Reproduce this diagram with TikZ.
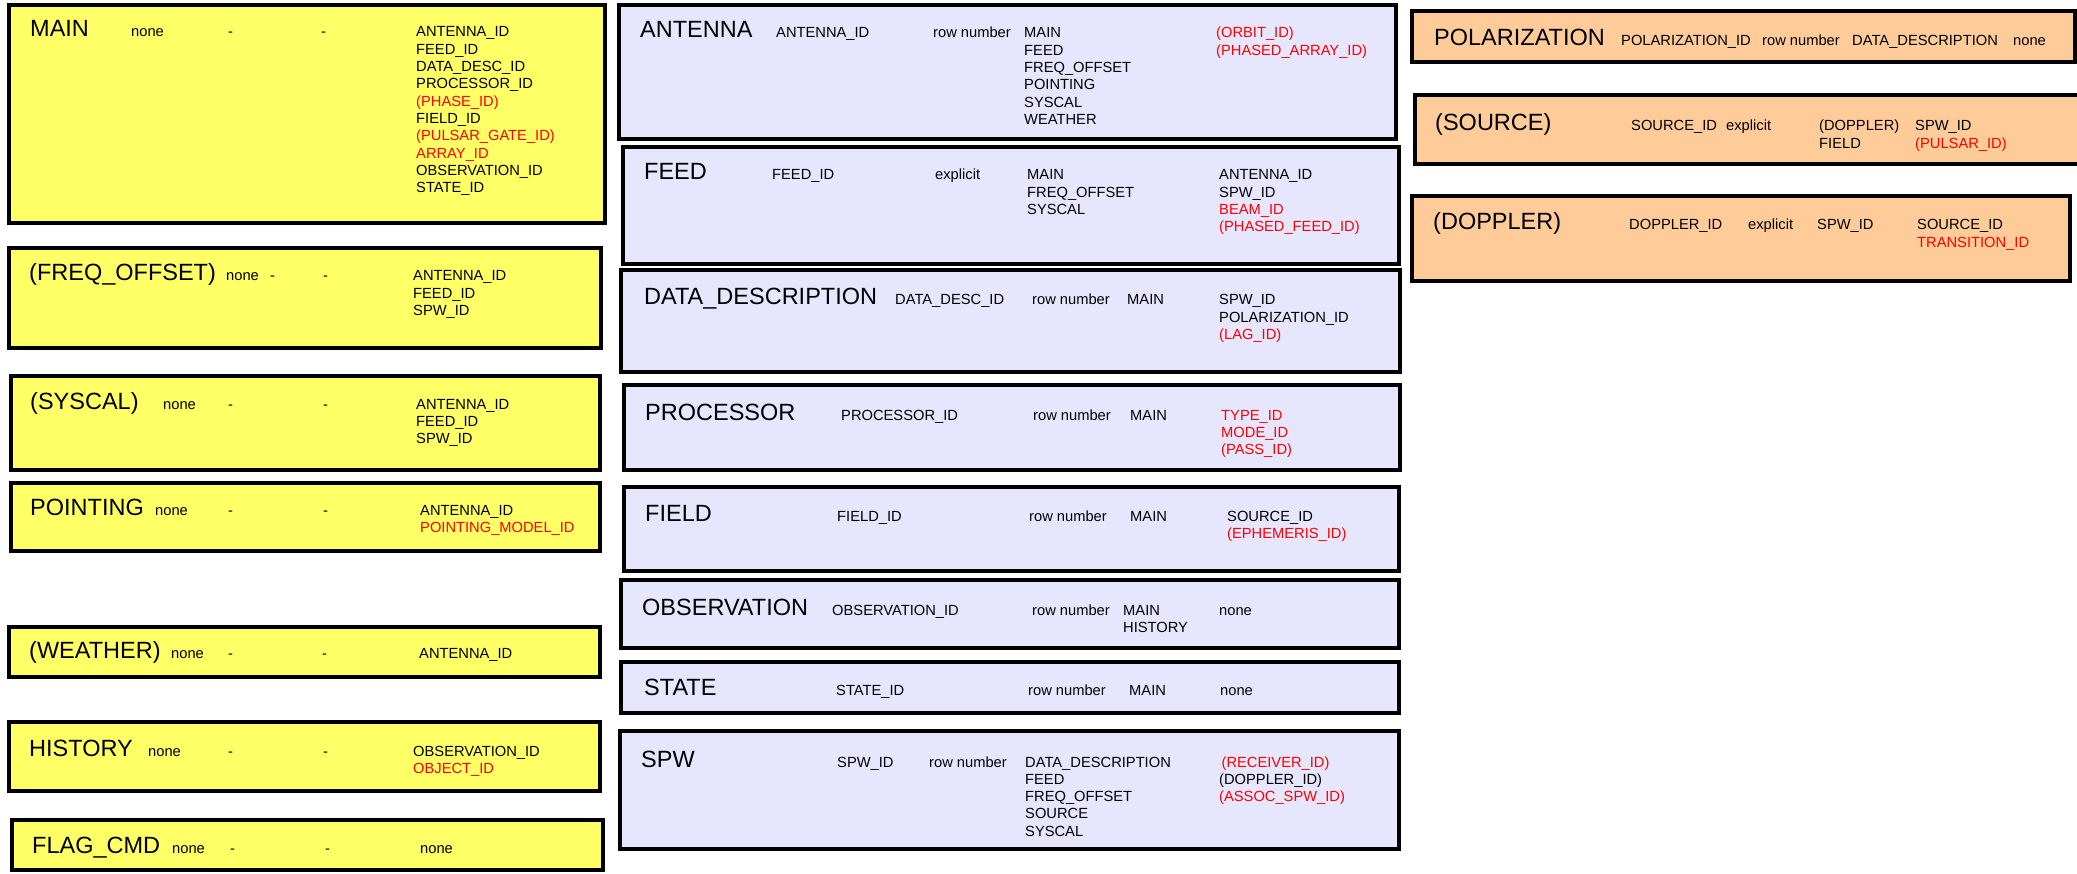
\documentclass[tikz,border=0pt]{standalone}
\usepackage{fontspec}
\setmainfont{Liberation Sans}
\definecolor{ylw}{RGB}{255,255,102}
\definecolor{lav}{RGB}{230,230,255}
\definecolor{org}{RGB}{255,204,153}
\definecolor{idred}{RGB}{255,0,0}
\newcommand{\rd}[1]{\textcolor{idred}{#1}}
\newcommand{\lst}[1]{\begin{tabular}[t]{@{}l@{}}#1\end{tabular}}
\newcommand{\tb}[6]{\node[#1, minimum width={#5-#3}, minimum height={#6-#4}] (#2) at (#3,#4) {};}
\tikzset{
  tbox/.style={draw=black, line width=3.6pt, inner sep=0pt, outer sep=0pt, anchor=north west},
  ybox/.style={tbox, fill=ylw},
  lbox/.style={tbox, fill=lav},
  obox/.style={tbox, fill=org},
  ttl/.style={anchor=base west, inner sep=0pt, font=\fontsize{23.5}{28}\selectfont},
  sm/.style={anchor=base west, inner sep=0pt, font=\fontsize{14.7}{17.3}\selectfont},
}
\begin{document}
\begin{tikzpicture}[x=1pt,y=-1pt]
\useasboundingbox (0,0) rectangle (2077,874);
% ---------------- yellow column ----------------
\tb{ybox}{main}{9}{5}{605}{223}
\node[ttl] (main-t) at (30,37) {MAIN};
\node[sm] (main-a) at (131,37) {none};
\node[sm] (main-b) at (228,37) {-};
\node[sm] (main-c) at (321,37) {-};
\node[sm] (main-d) at (416,37) {\lst{ANTENNA\_ID\\FEED\_ID\\DATA\_DESC\_ID\\PROCESSOR\_ID\\\rd{(PHASE\_ID)}\\FIELD\_ID\\\rd{(PULSAR\_GATE\_ID)}\\\rd{ARRAY\_ID}\\OBSERVATION\_ID\\STATE\_ID}};

\tb{ybox}{freq}{9}{248}{601}{348}
\node[ttl] (freq-t) at (29,281) {(FREQ\_OFFSET)};
\node[sm] (freq-a) at (226,281) {none};
\node[sm] (freq-b) at (270,281) {-};
\node[sm] (freq-c) at (323,281) {-};
\node[sm] (freq-d) at (413,281) {\lst{ANTENNA\_ID\\FEED\_ID\\SPW\_ID}};

\tb{ybox}{syscal}{11}{376}{600}{470}
\node[ttl] (syscal-t) at (30,409) {(SYSCAL)};
\node[sm] (syscal-a) at (163,409) {none};
\node[sm] (syscal-b) at (228,409) {-};
\node[sm] (syscal-c) at (323,409) {-};
\node[sm] (syscal-d) at (416,409) {\lst{ANTENNA\_ID\\FEED\_ID\\SPW\_ID}};

\tb{ybox}{point}{11}{483}{600}{551}
\node[ttl] (point-t) at (30,515) {POINTING};
\node[sm] (point-a) at (155,515) {none};
\node[sm] (point-b) at (228,515) {-};
\node[sm] (point-c) at (323,515) {-};
\node[sm] (point-d) at (420,515) {\lst{ANTENNA\_ID\\\rd{POINTING\_MODEL\_ID}}};

\tb{ybox}{weather}{9}{627}{600}{677}
\node[ttl] (weather-t) at (29,658) {(WEATHER)};
\node[sm] (weather-a) at (171,658) {none};
\node[sm] (weather-b) at (228,658) {-};
\node[sm] (weather-c) at (322,658) {-};
\node[sm] (weather-d) at (419,658) {ANTENNA\_ID};

\tb{ybox}{history}{9}{722}{600}{791}
\node[ttl] (history-t) at (29,756) {HISTORY};
\node[sm] (history-a) at (148,756) {none};
\node[sm] (history-b) at (228,756) {-};
\node[sm] (history-c) at (323,756) {-};
\node[sm] (history-d) at (413,756) {\lst{OBSERVATION\_ID\\\rd{OBJECT\_ID}}};

\tb{ybox}{flag}{12}{820}{603}{870}
\node[ttl] (flag-t) at (32,853) {FLAG\_CMD};
\node[sm] (flag-a) at (172,853) {none};
\node[sm] (flag-b) at (230,853) {-};
\node[sm] (flag-c) at (325,853) {-};
\node[sm] (flag-d) at (420,853) {none};

% ---------------- lavender column ----------------
\tb{lbox}{ant}{619}{5}{1396}{139}
\node[ttl] (ant-t) at (640,38) {ANTENNA};
\node[sm] (ant-a) at (776,38) {ANTENNA\_ID};
\node[sm] (ant-b) at (933,38) {row number};
\node[sm] (ant-c) at (1024,38) {\lst{MAIN\\FEED\\FREQ\_OFFSET\\POINTING\\SYSCAL\\WEATHER}};
\node[sm] (ant-d) at (1216,38) {\lst{\rd{(ORBIT\_ID)}\\\rd{(PHASED\_ARRAY\_ID)}}};

\tb{lbox}{feed}{623}{147}{1399}{264}
\node[ttl] (feed-t) at (644,180) {FEED};
\node[sm] (feed-a) at (772,180) {FEED\_ID};
\node[sm] (feed-b) at (935,180) {explicit};
\node[sm] (feed-c) at (1027,180) {\lst{MAIN\\FREQ\_OFFSET\\SYSCAL}};
\node[sm] (feed-d) at (1219,180) {\lst{ANTENNA\_ID\\SPW\_ID\\\rd{BEAM\_ID}\\\rd{(PHASED\_FEED\_ID)}}};

\tb{lbox}{dd}{621}{270}{1400}{372}
\node[ttl] (dd-t) at (644,305) {DATA\_DESCRIPTION};
\node[sm] (dd-a) at (895,305) {DATA\_DESC\_ID};
\node[sm] (dd-b) at (1032,305) {row number};
\node[sm] (dd-c) at (1127,305) {MAIN};
\node[sm] (dd-d) at (1219,305) {\lst{SPW\_ID\\POLARIZATION\_ID\\\rd{(LAG\_ID)}}};

\tb{lbox}{proc}{624}{385}{1400}{470}
\node[ttl] (proc-t) at (645,420) {PROCESSOR};
\node[sm] (proc-a) at (841,420) {PROCESSOR\_ID};
\node[sm] (proc-b) at (1033,420) {row number};
\node[sm] (proc-c) at (1130,420) {MAIN};
\node[sm] (proc-d) at (1221,420) {\lst{\rd{TYPE\_ID}\\\rd{MODE\_ID}\\\rd{(PASS\_ID)}}};

\tb{lbox}{field}{624}{487}{1399}{571}
\node[ttl] (field-t) at (645,521) {FIELD};
\node[sm] (field-a) at (837,521) {FIELD\_ID};
\node[sm] (field-b) at (1029,521) {row number};
\node[sm] (field-c) at (1130,521) {MAIN};
\node[sm] (field-d) at (1227,521) {\lst{SOURCE\_ID\\\rd{(EPHEMERIS\_ID)}}};

\tb{lbox}{obs}{621}{580}{1399}{648}
\node[ttl] (obs-t) at (642,615) {OBSERVATION};
\node[sm] (obs-a) at (832,615) {OBSERVATION\_ID};
\node[sm] (obs-b) at (1032,615) {row number};
\node[sm] (obs-c) at (1123,615) {\lst{MAIN\\HISTORY}};
\node[sm] (obs-d) at (1219,615) {none};

\tb{lbox}{state}{621}{662}{1399}{713}
\node[ttl] (state-t) at (644,695) {STATE};
\node[sm] (state-a) at (836,695) {STATE\_ID};
\node[sm] (state-b) at (1028,695) {row number};
\node[sm] (state-c) at (1129,695) {MAIN};
\node[sm] (state-d) at (1220,695) {none};

\tb{lbox}{spw}{620}{731}{1399}{849}
\node[ttl] (spw-t) at (641,767) {SPW};
\node[sm] (spw-a) at (837,767) {SPW\_ID};
\node[sm] (spw-b) at (929,767) {row number};
\node[sm] (spw-c) at (1025,767) {\lst{DATA\_DESCRIPTION\\FEED\\FREQ\_OFFSET\\SOURCE\\SYSCAL}};
\node[sm] (spw-d) at (1219,767) {\lst{\rd{\,(RECEIVER\_ID)}\\(DOPPLER\_ID)\\\rd{(ASSOC\_SPW\_ID)}}};

% ---------------- orange column ----------------
\tb{obox}{pol}{1412}{11}{2075}{62}
\node[ttl] (pol-t) at (1434,46) {POLARIZATION};
\node[sm] (pol-a) at (1621,46) {POLARIZATION\_ID};
\node[sm] (pol-b) at (1762,46) {row number};
\node[sm] (pol-c) at (1852,46) {DATA\_DESCRIPTION};
\node[sm] (pol-d) at (2013,46) {none};

\tb{obox}{src}{1415}{95}{2080}{164}
\node[ttl] (src-t) at (1435,131) {(SOURCE)};
\node[sm] (src-a) at (1631,131) {SOURCE\_ID};
\node[sm] (src-b) at (1726,131) {explicit};
\node[sm] (src-c) at (1819,131) {\lst{(DOPPLER)\\FIELD}};
\node[sm] (src-d) at (1915,131) {\lst{SPW\_ID\\\rd{(PULSAR\_ID)}}};

\tb{obox}{dop}{1412}{196}{2070}{281}
\node[ttl] (dop-t) at (1433,230) {(DOPPLER)};
\node[sm] (dop-a) at (1629,230) {DOPPLER\_ID};
\node[sm] (dop-b) at (1748,230) {explicit};
\node[sm] (dop-c) at (1817,230) {SPW\_ID};
\node[sm] (dop-d) at (1917,230) {\lst{SOURCE\_ID\\\rd{TRANSITION\_ID}}};
\end{tikzpicture}
\end{document}
